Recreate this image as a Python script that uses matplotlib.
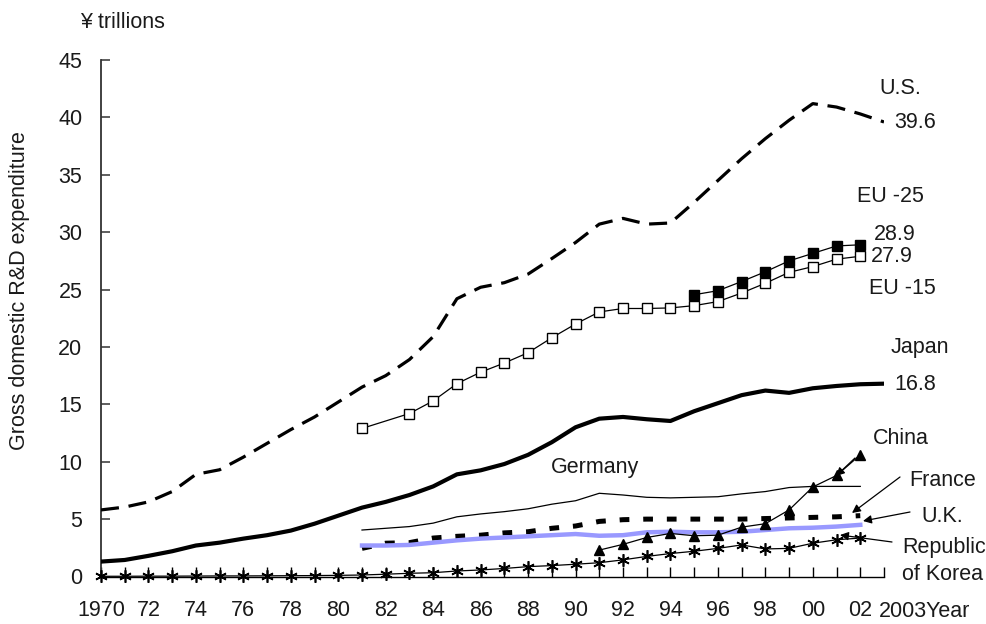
import matplotlib
matplotlib.use("Agg")
import matplotlib.pyplot as plt
from matplotlib import font_manager as fm
import numpy as np

names = {f.name for f in fm.fontManager.ttflist}
FONT = 'Liberation Sans Narrow' if 'Liberation Sans Narrow' in names else 'Liberation Sans'
plt.rcParams['font.family'] = [FONT, 'DejaVu Sans']
plt.rcParams['lines.scale_dashes'] = False

# ---- data (¥ trillions) ----
years_us = list(range(1970, 2004))
us = [5.8, 6.05, 6.5, 7.4, 8.9, 9.3, 10.4, 11.6, 12.8, 13.9, 15.2, 16.5,
      17.5, 18.9, 20.9, 24.2, 25.2, 25.6, 26.35, 27.7, 29.1, 30.7, 31.2, 30.7,
      30.8, 32.6, 34.5, 36.4, 38.15, 39.75, 41.2, 40.9, 40.3, 39.6]

years_jp = list(range(1970, 2004))
japan = [1.3, 1.44, 1.8, 2.2, 2.7, 2.95, 3.3, 3.6, 4.0, 4.6, 5.3, 6.0,
         6.5, 7.1, 7.85, 8.9, 9.25, 9.8, 10.6, 11.7, 13.0, 13.75, 13.9, 13.7,
         13.55, 14.4, 15.1, 15.8, 16.2, 16.0, 16.4, 16.6, 16.75, 16.8]

years_eu15 = [1981] + list(range(1983, 2003))
eu15 = [12.9, 14.2, 15.3, 16.8, 17.8, 18.6, 19.5, 20.8, 22.0, 23.05, 23.35,
        23.35, 23.4, 23.6, 23.95, 24.7, 25.55, 26.5, 27.0, 27.65, 27.9]

years_eu25 = list(range(1995, 2003))
eu25 = [24.55, 24.9, 25.7, 26.55, 27.5, 28.15, 28.8, 28.9]

years_de = list(range(1981, 2003))
germany = [4.05, 4.2, 4.35, 4.65, 5.2, 5.45, 5.65, 5.9, 6.3, 6.6, 7.25, 7.1,
           6.9, 6.85, 6.9, 6.95, 7.2, 7.4, 7.75, 7.85, 7.85, 7.85]

years_fr = list(range(1981, 2003))
france = [2.45, 2.9, 2.95, 3.35, 3.5, 3.6, 3.8, 3.9, 4.2, 4.4, 4.8, 4.95,
          5.0, 5.0, 5.0, 5.0, 5.0, 5.05, 5.1, 5.15, 5.2, 5.3]

years_uk = list(range(1981, 2003))
uk = [2.7, 2.7, 2.75, 2.95, 3.15, 3.3, 3.4, 3.5, 3.6, 3.7, 3.55, 3.6,
      3.85, 3.9, 3.85, 3.85, 3.9, 4.05, 4.2, 4.25, 4.35, 4.5]

years_cn = list(range(1991, 2003))
china = [2.3, 2.8, 3.4, 3.75, 3.55, 3.6, 4.3, 4.6, 5.8, 7.8, 8.8, 10.6]

years_kr = list(range(1970, 2003))
korea = [0.02, 0.02, 0.03, 0.03, 0.04, 0.05, 0.05, 0.06, 0.07, 0.08, 0.1,
         0.13, 0.2, 0.28, 0.33, 0.48, 0.57, 0.7, 0.86, 0.95, 1.07, 1.2,
         1.45, 1.75, 2.0, 2.2, 2.45, 2.75, 2.4, 2.45, 2.9, 3.2, 3.35]

xlabel_years = list(range(1970, 2003, 2))
xlabels = ['1970'] + [f"{y % 100:02d}" for y in xlabel_years[1:]]
odd_years = list(range(1971, 2004, 2))

# ---- figure ----
W, H = 987, 624
fig = plt.figure(figsize=(W / 100, H / 100), dpi=100)
left, right, bottom, top = 101 / W, 884 / W, (H - 576.5) / H, (H - 60) / H
ax = fig.add_axes([left, bottom, right - left, top - bottom])
ax.set_xlim(1970, 2003)
ax.set_ylim(0, 45)

FS = 15.5
K = 'black'
TC = '#1a1a1a'
ax.plot(years_us, us, color=K, lw=2.3, dashes=[13, 7], dash_capstyle='butt', zorder=3)
ax.plot(years_jp, japan, color=K, lw=3.0, zorder=3)
ax.plot(years_de, germany, color=K, lw=0.9, zorder=3)
ax.plot(years_fr, france, color=K, lw=3.6, dashes=[7, 10], dash_capstyle='butt', zorder=3)
ax.plot(years_uk, uk, color='#9999ff', lw=3.2, zorder=3)
ax.plot(years_eu15, eu15, color=K, lw=0.9, marker='s', ms=6.5, mfc='white', mec=K, mew=1.0, zorder=4)
ax.plot(years_eu25, eu25, color=K, lw=0.9, marker='s', ms=7, mfc=K, mec=K, zorder=4)
ax.plot(years_cn, china, color=K, lw=0.9, marker='^', ms=7.5, mfc=K, mec=K, zorder=4)
ax.plot(years_kr, korea, color=K, lw=0.9, marker=(6, 2, 0), ms=9, mec=K, mew=1.2, zorder=5, clip_on=False)

# axes styling
for s in ['top', 'right']:
    ax.spines[s].set_visible(False)
ax.spines['left'].set_color('#333333')
ax.spines['left'].set_linewidth(1.3)
ax.spines['bottom'].set_color('black')
ax.spines['bottom'].set_linewidth(1.0)

ax.set_yticks(range(0, 46, 5))
ax.tick_params(axis='y', direction='in', length=6.5, width=1.1, pad=13.5, labelsize=FS, labelcolor=TC,
               color='#333333')
ax.set_xticks(xlabel_years)
ax.set_xticklabels(xlabels)
ax.set_xticks(odd_years, minor=True)
ax.tick_params(axis='x', which='both', direction='in', length=7, width=1.0, color='black')
ax.tick_params(axis='x', which='major', pad=17, labelsize=FS, labelcolor=TC)

ax.text(2003 - 0.2, -3.05, '2003Year', ha='left', va='center', fontsize=FS, color=TC, clip_on=False)

fig.text(123 / W, 1 - 22 / H, '¥ trillions', ha='center', va='center', fontsize=FS, color=TC)
fig.text(20 / W, 1 - 291 / H, 'Gross domestic R&D expenditure', rotation=90, ha='center', va='center',
         fontsize=FS, color=TC)

def lab(px, py, s, ha='center'):
    fig.text(px / W, 1 - py / H, s, ha=ha, va='center', fontsize=FS, color=TC)

lab(900, 88, 'U.S.')
lab(915, 122, '39.6')
lab(890, 197, 'EU -25')
lab(895, 234, '28.9')
lab(892, 257, '27.9')
lab(902, 288, 'EU -15')
lab(920, 348, 'Japan')
lab(915, 384, '16.8')
lab(901, 439, 'China')
lab(943, 480, 'France')
lab(942, 517, 'U.K.')
lab(944, 547, 'Republic')
lab(943, 575, 'of Korea')
lab(595, 467, 'Germany')

def arrow(x0, y0, x1, y1):
    fig.add_artist(matplotlib.patches.FancyArrowPatch(
        (x0 / W, 1 - y0 / H), (x1 / W, 1 - y1 / H), transform=fig.transFigure,
        arrowstyle='-|>,head_length=5,head_width=2.5', color='black', lw=0.9, shrinkA=0, shrinkB=0))

arrow(900, 477, 852, 513)
arrow(910, 512, 863, 521)
arrow(892, 542, 840, 535)
arrow(855, 458, 836, 476)

fig.savefig('out.png', dpi=100)
